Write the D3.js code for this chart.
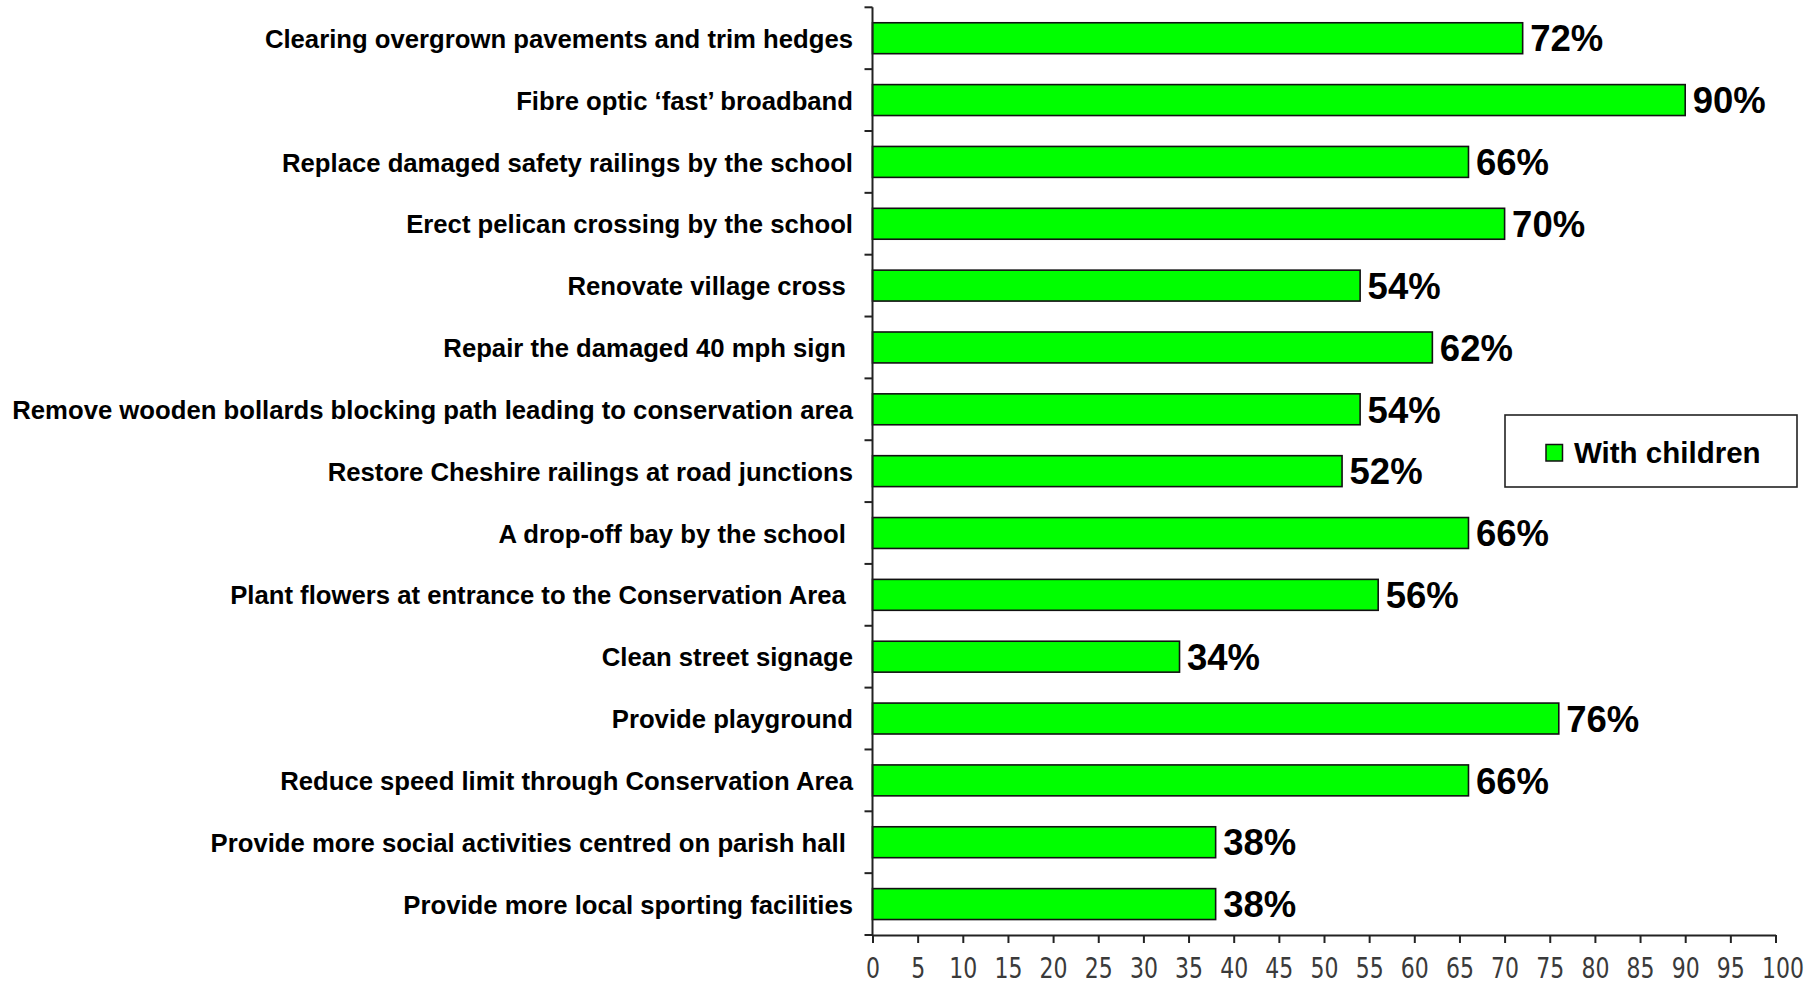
<!DOCTYPE html>
<html>
<head>
<meta charset="utf-8">
<script src="https://cdn.jsdelivr.net/npm/d3@7"></script>
<style>
  html, body { margin: 0; padding: 0; background: #fff; }
  svg { display: block; }
  text { white-space: pre; }
</style>
</head>
<body>
<svg id="chart" width="1808" height="986"></svg>
<script>
const categories = [
  "Clearing overgrown pavements and trim hedges",
  "Fibre optic \u2018fast\u2019 broadband",
  "Replace damaged safety railings by the school",
  "Erect pelican crossing by the school",
  "Renovate village cross ",
  "Repair the damaged 40 mph sign ",
  "Remove wooden bollards blocking path leading to conservation area",
  "Restore Cheshire railings at road junctions",
  "A drop-off bay by the school ",
  "Plant flowers at entrance to the Conservation Area ",
  "Clean street signage",
  "Provide playground",
  "Reduce speed limit through Conservation Area",
  "Provide more social activities centred on parish hall ",
  "Provide more local sporting facilities"
];
const values = [72, 90, 66, 70, 54, 62, 54, 52, 66, 56, 34, 76, 66, 38, 38];
const seriesName = "With children";
const tickValues = [0, 5, 10, 15, 20, 25, 30, 35, 40, 45, 50, 55, 60, 65, 70, 75, 80, 85, 90, 95, 100];

const svg = d3.select("#chart");
const x0 = 872.5, x1 = 1775.5, yTop = 7.3, yBot = 935;
const x = d3.scaleLinear().domain([0, 100]).range([x0, x1]);
const y = d3.scaleBand().domain(categories).range([yTop, yBot]).paddingInner(0.5).paddingOuter(0.25);
const bw = y.bandwidth(), step = y.step();
const green = "#00ff00";
const axisColor = "#222";

// bars
svg.append("g").selectAll("rect").data(values).join("rect")
  .attr("x", x(0))
  .attr("y", (d, i) => y(categories[i]))
  .attr("width", d => x(d) - x(0))
  .attr("height", bw)
  .attr("fill", green)
  .attr("stroke", "#111")
  .attr("stroke-width", 1.6);

// y axis line and ticks (at band boundaries)
const gy = svg.append("g");
gy.append("line").attr("x1", x0).attr("x2", x0).attr("y1", yTop).attr("y2", yBot)
  .attr("stroke", axisColor).attr("stroke-width", 2);
const bounds = categories.map(c => y(c) - (step - bw) / 2).concat([yBot]);
gy.selectAll("line.tk").data(bounds).join("line").attr("class", "tk")
  .attr("x1", x0 - 8).attr("x2", x0).attr("y1", d => d).attr("y2", d => d)
  .attr("stroke", axisColor).attr("stroke-width", 2);

// category labels
svg.append("g").selectAll("text").data(categories).join("text")
  .attr("x", 853)
  .attr("y", d => y(d) + bw / 2 + 9.6)
  .attr("text-anchor", "end")
  .attr("font-family", "'Liberation Sans', Arial, sans-serif")
  .attr("font-weight", "bold")
  .attr("font-size", "25.7px")
  .attr("fill", "#000")
  .text(d => d);

// value labels
svg.append("g").selectAll("text").data(values).join("text")
  .attr("x", d => x(d) + 7.5)
  .attr("y", (d, i) => y(categories[i]) + bw / 2 + 13.2)
  .attr("font-family", "'Liberation Sans', Arial, sans-serif")
  .attr("font-weight", "bold")
  .attr("font-size", "36.5px")
  .attr("fill", "#000")
  .text(d => d + "%");

// x axis
const gx = svg.append("g").attr("transform", `translate(0,${yBot})`)
  .call(d3.axisBottom(x).tickValues(tickValues).tickSize(8).tickSizeOuter(0).tickFormat(d3.format("d")));
gx.select(".domain").attr("stroke", axisColor).attr("stroke-width", 2);
gx.selectAll(".tick line").attr("stroke", axisColor).attr("stroke-width", 2);
gx.selectAll(".tick text")
  .attr("font-family", "'DejaVu Sans', Verdana, sans-serif")
  .attr("font-size", "22px")
  .attr("fill", "#3a3a3a")
  .attr("y", 0).attr("dy", null)
  .attr("text-anchor", d => d === 100 ? "end" : "middle")
  .attr("transform", d => `translate(${d === 100 ? 28 : 0},42.5) scale(1,1.25)`);

// legend
const lg = svg.append("g");
lg.append("rect").attr("x", 1505).attr("y", 415).attr("width", 292).attr("height", 72)
  .attr("fill", "#fff").attr("stroke", "#222").attr("stroke-width", 1.6);
lg.append("rect").attr("x", 1546).attr("y", 444.5).attr("width", 16.5).attr("height", 16.5)
  .attr("fill", green).attr("stroke", "#111").attr("stroke-width", 1.5);
lg.append("text").attr("x", 1574).attr("y", 462.7)
  .attr("font-family", "'Liberation Sans', Arial, sans-serif")
  .attr("font-weight", "bold").attr("font-size", "29.5px").attr("fill", "#000")
  .text(seriesName);
</script>
</body>
</html>
